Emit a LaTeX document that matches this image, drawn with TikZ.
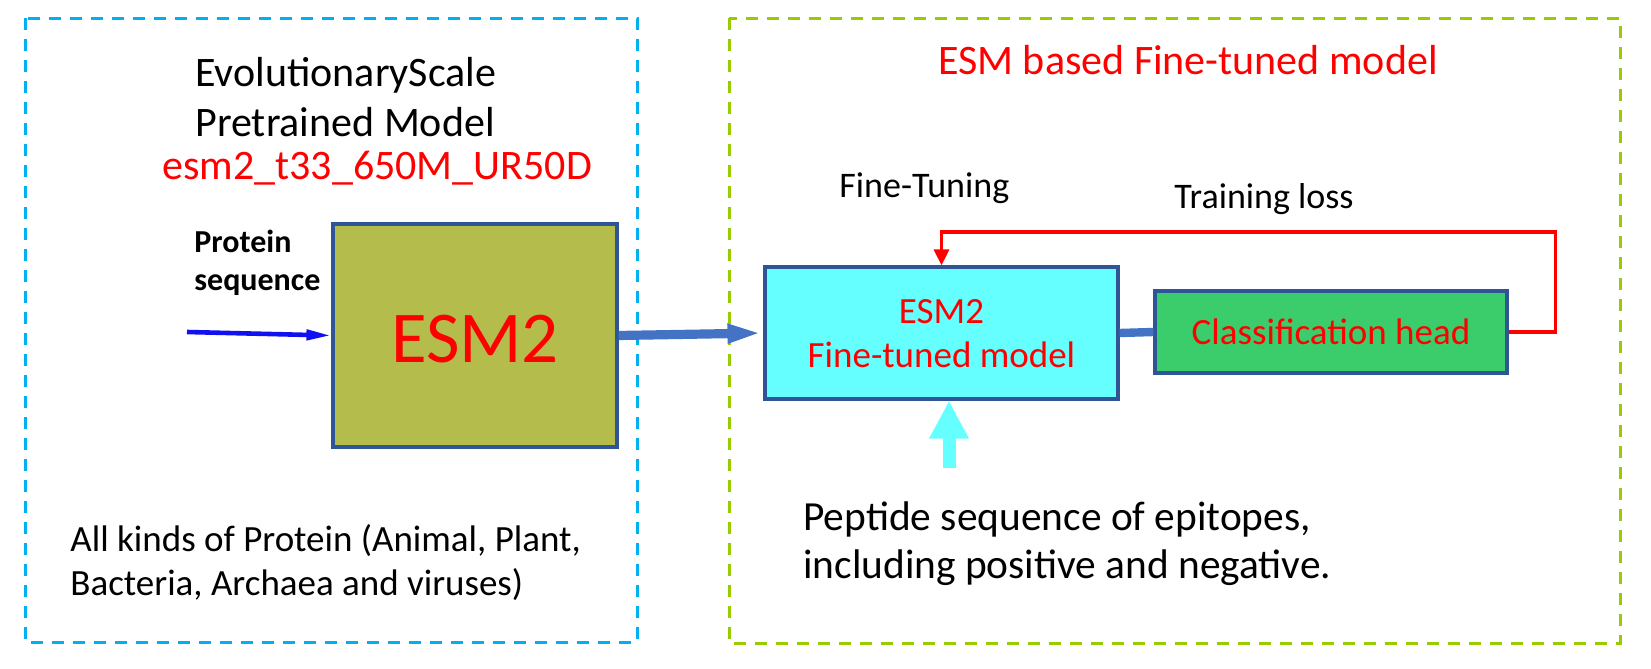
\documentclass[tikz,border=0pt]{standalone}
\usepackage{fontspec}
\setmainfont{Carlito}
\usetikzlibrary{arrows.meta}
\definecolor{dashblue}{RGB}{0,176,240}
\definecolor{dashgreen}{RGB}{153,204,0}
\definecolor{boxborder}{RGB}{47,85,151}
\definecolor{olivefill}{RGB}{180,189,75}
\definecolor{cyanfill}{RGB}{102,255,255}
\definecolor{greenfill}{RGB}{59,205,107}
\definecolor{arrowblue}{RGB}{68,114,196}
\definecolor{inblue}{RGB}{16,16,240}
\definecolor{lossred}{RGB}{255,0,0}
\begin{document}
\begin{tikzpicture}[x=0.5pt,y=-0.5pt,
  txt/.style={inner sep=0pt, anchor=base west},
  fs/.style={font=\fontsize{#1}{#1}\selectfont},
  frame/.style={line width=1.5pt, dash pattern=on 6pt off 4.5pt},
  blk/.style={draw=boxborder, line width=1.6pt, inner sep=0pt},
  thickarrow/.style={draw=arrowblue, line width=4.6pt, -{Triangle[length=18pt,width=8.5pt]}},
  inarrow/.style={draw=inblue, line width=2.3pt, -{Triangle[length=12.5pt,width=5pt]}},
  lossarrow/.style={draw=lossred, line width=1.6pt, -{Triangle[length=8pt,width=7.5pt]}},
  uparrow/.style={draw=cyanfill, line width=6.5pt, -{Triangle[length=19pt,width=18.5pt]}}
]
\useasboundingbox (0,0) rectangle (1651,669);
% frames
\draw[frame, dashblue] (25,18) rectangle (637,642);
\draw[frame, dashgreen] (729,18) rectangle (1620,643);

% left part
\node[txt, fs=21] (t1) at (195,86) {EvolutionaryScale};
\node[txt, fs=21] (t2) at (195,136) {Pretrained Model};
\node[txt, fs=21, text=lossred] (t3) at (162,179) {esm2\_t33\_650M\_UR50D};
\node[txt, font=\fontsize{16}{16}\selectfont\bfseries] (p1) at (194,252) {Protein};
\node[txt, font=\fontsize{16}{16}\selectfont\bfseries] (p2) at (194,290) {sequence};
\node[blk, fill=olivefill, minimum width=142pt, minimum height=111.5pt] (esm) at (475,335.5) {};
\node[inner sep=0pt, anchor=base, fs=36.5, text=lossred] (esmlbl) at (475,362) {ESM2};
\node[txt, fs=18.5] (k1) at (70,551) {All kinds of Protein (Animal, Plant,};
\node[txt, fs=18.5] (k2) at (70,595) {Bacteria, Archaea and viruses)};
\coordinate (instart) at (187,332);
\draw[inarrow] (instart) -- (esm.west);

% right part
\node[inner sep=0pt, anchor=base, fs=21, text=lossred] (rt) at (1188,74) {ESM based Fine-tuned model};
\node[blk, fill=cyanfill, minimum width=176.5pt, minimum height=66pt] (ft) at (941.5,333) {};
\node[inner sep=0pt, anchor=base, fs=18.5, text=lossred] (ft1) at (941.5,323) {ESM2};
\node[inner sep=0pt, anchor=base, fs=18.5, text=lossred] (ft2) at (941.5,367) {Fine-tuned model};
\node[blk, fill=greenfill, minimum width=176pt, minimum height=41pt] (cls) at (1331,332) {};
\node[inner sep=0pt, anchor=base, fs=18.5, text=lossred] (clslbl) at (1331,344) {Classification head};
\node[txt, fs=18] (fine) at (839,197) {Fine-Tuning};
\node[txt, fs=18] (loss) at (1174,208) {Training loss};
\node[txt, fs=20.7] (pe1) at (803,530) {Peptide sequence of epitopes,};
\node[txt, fs=20.7] (pe2) at (803,578) {including positive and negative.};

\draw[thickarrow] (esm.east) -- (ft.west);
\draw[draw=arrowblue, line width=4.2pt] (ft.east) -- (cls.west);
\draw[lossarrow] (cls.east) -- ++(47,0) -- ++(0,-100) -| (ft.north);
\coordinate (pepin) at (949,468);
\draw[uparrow] (pepin) -- (pepin |- ft.south);
\end{tikzpicture}
\end{document}
